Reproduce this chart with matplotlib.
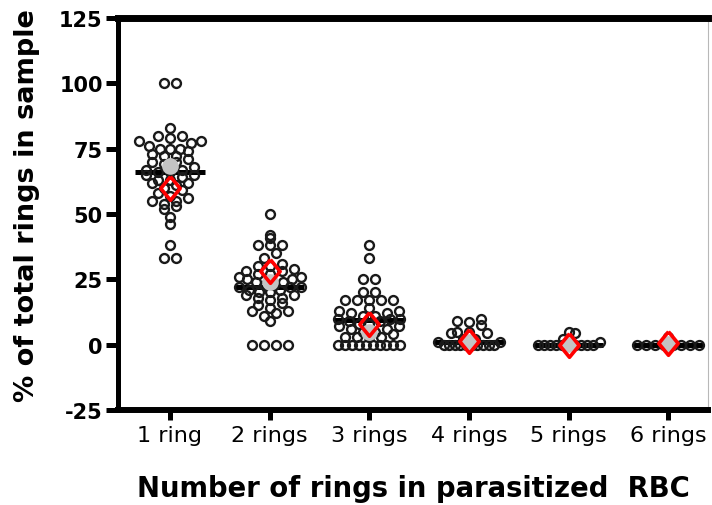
import numpy as np
import matplotlib.pyplot as plt

plt.rcParams['font.family'] = ['DejaVu Sans']
plt.rcParams['axes.unicode_minus'] = False

categories = ['1 ring', '2 rings', '3 rings', '4 rings', '5 rings', '6 rings']

ring1 = [100, 100, 83, 80, 80, 79, 78, 78, 77, 76, 75, 75, 75, 74, 73, 72, 72,
         71, 70, 70, 69, 68, 67, 67, 66, 66, 65, 65, 64, 63, 63, 62, 62, 61, 60,
         59, 58, 57, 56, 55, 55, 54, 53, 52, 49, 46, 38, 33, 33]
ring2 = [50, 42, 41, 38, 38, 38, 35, 33, 31, 30, 30, 29, 28, 28, 27, 27, 26, 26,
         25, 25, 24, 24, 23, 23, 22, 22, 22, 21, 21, 20, 20, 19, 19, 18, 18, 17,
         16, 15, 14, 13, 13, 12, 11, 9, 0, 0, 0, 0]
ring3 = [38, 33, 25, 25, 20, 20, 17, 17, 17, 17, 17, 14, 13, 13, 12, 12, 11, 11,
         10, 10, 10, 9, 9, 8, 8, 7, 7, 6, 6, 5, 5, 4, 3, 3, 3, 3,
         0, 0, 0, 0, 0, 0, 0, 0, 0, 0]
ring4 = [10, 9, 8.5, 7.5, 5, 5, 4.5, 4.5, 2, 2, 1, 1,
         0, 0, 0, 0, 0, 0, 0, 0, 0, 0]
ring5 = [5, 4.5, 2, 1, 0, 0, 0, 0, 0, 0, 0, 0, 0, 0]
ring6 = [3, 0, 0, 0, 0, 0, 0, 0, 0]

medians = [66, 22, 9.5, 1, 0, 0]
grey_means = [68.5, 24, 5, 1, 0.3, 0.3]
red_values = [60, 28, 8, 1.4, 0, 0.5]

groups = [ring1, ring2, ring3, ring4, ring5, ring6]


def scatter_x(ax, xc, values, bin_px=8.0, gap_px=12.0, max_px=62.0):
    """Column scatter: points within one bin of height are spread in a row."""
    trans = ax.transData
    vals = np.asarray(values, dtype=float)
    ys = trans.transform(np.column_stack([np.full(len(vals), xc), vals]))[:, 1]
    y0 = trans.transform((xc, 0))[1]
    bins = np.round((ys - y0) / bin_px).astype(int)
    offs = np.zeros(len(vals))
    for b in np.unique(bins):
        idx = np.where(bins == b)[0]
        n = len(idx)
        if n == 1:
            continue
        step = min(gap_px, max_px / (n - 1))
        idx = idx[np.argsort(vals[idx], kind='stable')]
        # lowest values go to the middle of the row, higher ones to the ends
        slots = sorted(range(n), key=lambda k: abs(k - (n - 1) / 2))
        for k, i in zip(slots, idx):
            offs[i] = (k - (n - 1) / 2) * step
    unit = trans.transform((1, 0))[0] - trans.transform((0, 0))[0]
    return xc + offs / unit


fig = plt.figure(figsize=(7.12, 5.06), dpi=100)
ax = fig.add_axes([0.1657, 0.1877, 0.8287, 0.7748])
ax.set_xlim(0.478, 6.40)
ax.set_ylim(-25, 125)

positions = np.arange(1, len(categories) + 1)

ax.hlines(medians, positions - 0.35, positions + 0.35, color='black',
          lw=3.6, zorder=3)

for pos, vals in zip(positions, groups):
    xs = scatter_x(ax, pos, vals)
    ax.plot(xs, vals, 'o', ms=6.4, mfc='none', mec='#1a1a1a', mew=1.7,
            linestyle='none', zorder=4)

ax.plot(positions, grey_means, 'o', ms=12, color='#c4c4c4', mec='none', zorder=5)

diamond = [(0, 1), (0.82, 0), (0, -1), (-0.82, 0), (0, 1)]
ax.plot(positions, red_values, linestyle='none', marker=diamond, ms=17,
        mfc='none', mec='#ff0000', mew=2.6, zorder=6)

ax.set_yticks([-25, 0, 25, 50, 75, 100, 125])
ax.set_xticks(positions)
ax.set_xticklabels(categories)

for side in ('left', 'bottom', 'top'):
    ax.spines[side].set_color('black')
ax.spines['left'].set_linewidth(3.6)
ax.spines['bottom'].set_linewidth(4.3)
ax.spines['top'].set_linewidth(5)
ax.spines['right'].set_linewidth(0.8)
ax.spines['right'].set_color('#b8b8b8')

ax.tick_params(axis='y', length=9, width=3.6, pad=2, labelsize=15)
ax.tick_params(axis='x', length=7, width=3.6, pad=4, labelsize=16)
for lab in ax.get_yticklabels():
    lab.set_fontweight('bold')

ax.set_ylabel('% of total rings in sample', fontsize=19.5, fontweight='bold')
ax.yaxis.set_label_coords(-0.132, 0.525)
ax.set_xlabel('Number of rings in parasitized  RBC', fontsize=19.8,
              fontweight='bold', labelpad=21)

fig.savefig('out.png', dpi=100)
